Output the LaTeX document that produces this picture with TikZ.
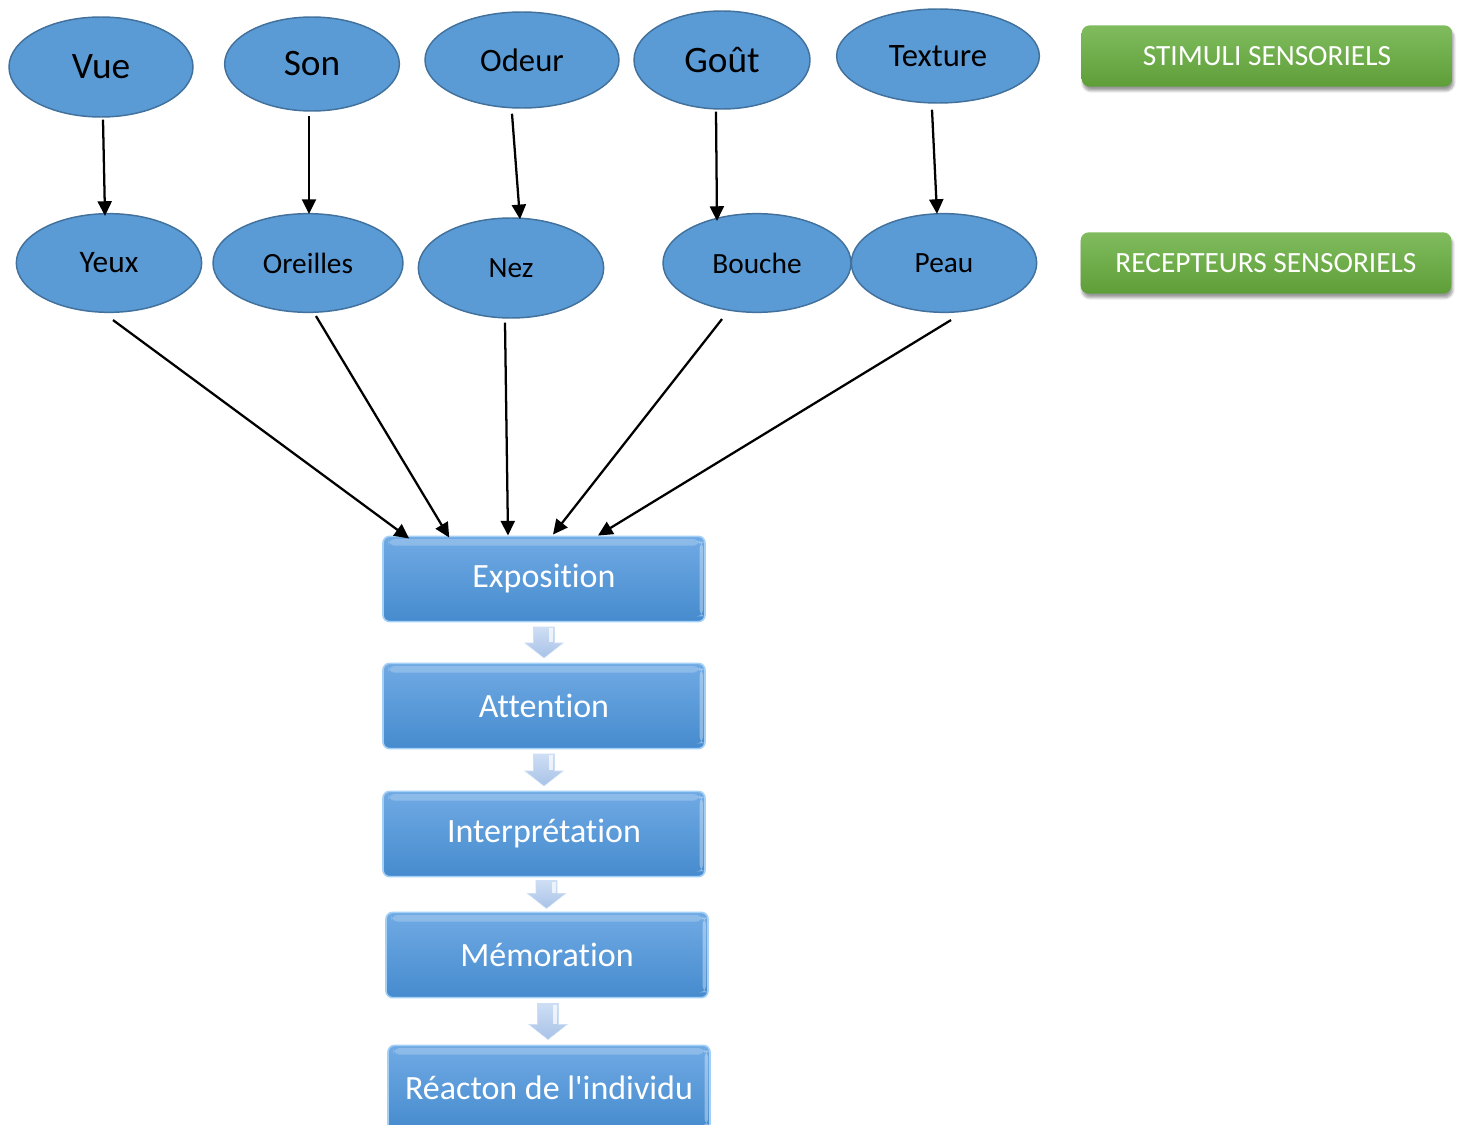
\documentclass[tikz,border=0pt]{standalone}
\usepackage{fontspec}
\setmainfont{Carlito}[Ligatures=NoCommon]
\usetikzlibrary{shapes.geometric,calc,arrows.meta,shadows.blur}
\definecolor{ellfill}{RGB}{91,155,213}
\definecolor{elldraw}{RGB}{65,113,156}
\definecolor{boxtop}{RGB}{112,170,228}
\definecolor{boxbot}{RGB}{70,139,206}
\definecolor{boxedge}{RGB}{165,208,246}
\definecolor{grtop}{RGB}{128,188,94}
\definecolor{grbot}{RGB}{94,158,56}
\definecolor{arrtop}{RGB}{206,222,244}
\definecolor{arrbot}{RGB}{168,194,231}
\tikzset{
  ell/.style={ellipse, fill=ellfill, draw=elldraw, line width=1.1pt, inner sep=0pt},
  big/.style={font=\fontsize{28}{30}\selectfont},
  mid/.style={font=\fontsize{24.5}{28}\selectfont},
  small/.style={font=\fontsize{22}{24}\selectfont},
  stage/.style={rectangle, rounded corners=5pt, top color=boxtop, bottom color=boxbot,
    draw=boxedge, line width=1.2pt, minimum width=241.5pt, minimum height=64pt,
    text=white, font=\fontsize{25.5}{28}\selectfont,
    path picture={
      \fill[white, opacity=0.22] ([xshift=4pt,yshift=-2pt]path picture bounding box.north west)
        rectangle ([xshift=-4pt,yshift=-7pt]path picture bounding box.north east);
      \fill[white, opacity=0.35] ([xshift=-4pt,yshift=-4pt]path picture bounding box.north east)
        rectangle ([xshift=-1.5pt,yshift=4pt]path picture bounding box.south east);
    }},
  label/.style={rectangle, rounded corners=6pt, top color=grtop, bottom color=grbot,
    minimum width=278pt, minimum height=46pt, text=white,
    font=\fontsize{22}{25}\selectfont,
    blur shadow={shadow xshift=1pt, shadow yshift=-3pt, shadow blur steps=6, shadow opacity=40}},
  conn/.style={line width=1.7pt, -{Triangle[length=11pt,width=10.5pt]}},
  blkarr/.pic={
    \path[top color=arrtop, bottom color=arrbot, draw=arrtop, line width=0.4pt]
      (-10.5,{-#1/2}) -- (10.5,{-#1/2}) -- (10.5,{#1/2-15}) -- (19,{#1/2-15})
      -- (0,{#1/2}) -- (-19,{#1/2-15}) -- (-10.5,{#1/2-15}) -- cycle;
    \fill[white, opacity=0.7] (5,{-#1/2+1}) rectangle (9,{#1/2-16});
  },
}
\begin{document}
\begin{tikzpicture}[x=0.75pt,y=-0.75pt]
\useasboundingbox (0,0) rectangle (1462,1124);
% stimuli
\node[ell, big, minimum width=138pt, minimum height=75pt] (vue) at (101,67) {Vue};
\node[ell, big, minimum width=131pt, minimum height=70.5pt] (son) at (312,64) {Son};
\node[ell, mid, minimum width=145.5pt, minimum height=72pt] (odeur) at (522,60) {Odeur};
\node[ell, big, minimum width=132pt, minimum height=73.5pt] (gout) at (722,60) {Goût};
\node[ell, mid, minimum width=152pt, minimum height=70.5pt] (texture) at (938,56) {Texture};
% receptors
\node[ell, font=\fontsize{23.5}{26}\selectfont, minimum width=139pt, minimum height=74pt] (yeux) at (109,263) {Yeux};
\node[ell, small, minimum width=142.5pt, minimum height=74pt] (oreilles) at (308,263) {Oreilles};
\node[ell, small, minimum width=139pt, minimum height=75pt] (nez) at (511,268) {Nez};
\node[ell, small, minimum width=141pt, minimum height=74pt] (bouche) at (757,263) {Bouche};
\node[ell, small, minimum width=139pt, minimum height=74pt] (peau) at (944,263) {Peau};
% labels
\node[label] (stim) at (1267,56) {STIMULI SENSORIELS};
\node[label] (recep) at (1266,263) {RECEPTEURS SENSORIELS};
% stages
\node[stage] (expo) at (544,579) {Exposition};
\node[stage] (att) at (544,706) {Attention};
\node[stage] (interp) at (544,834) {Interprétation};
\node[stage] (memo) at (547,955) {Mémoration};
\node[stage] (reac) at (549,1088) {Réacton de l\textquotesingle individu};
% block arrows
\pic at ($(expo.south)!0.5!(att.north)$) {blkarr=31};
\pic at ($(att.south)!0.5!(interp.north)$) {blkarr=32};
\pic at ($(interp.south)!0.5!(memo.north)+(1,0)$) {blkarr=28};
\pic at ($(memo.south)!0.5!(reac.north)$) {blkarr=36};
% stimulus -> receptor
\draw[conn] ($(vue.south)+(2,2)$) -- ($(yeux.north)+(-4,3)$);
\draw[conn] ($(son.south)+(-3,4)$) -- ($(oreilles.north)+(1,1)$);
\draw[conn] ($(odeur.south)+(-10,5)$) -- ($(nez.north)+(9,2)$);
\draw[conn] ($(gout.south)+(-6,2)$) -- ($(bouche.north)+(-40,8)$);
\draw[conn] ($(texture.south)+(-6,6)$) -- ($(peau.north)+(-7,1)$);
% receptor -> exposition
\draw[conn] ($(yeux.south)+(4,7)$) -- ($(expo.north west)+(27,3)$);
\draw[conn] ($(oreilles.south)+(8,3)$) -- ($(expo.north west)+(67,2)$);
\draw[conn] ($(nez.south)+(-6,4)$) -- ($(expo.north)+(-36,0)$);
\draw[conn] ($(bouche.south)+(-35,6)$) -- ($(expo.north)+(9,-1)$);
\draw[conn] ($(peau.south)+(7,7)$) -- ($(expo.north)+(54,0)$);
\end{tikzpicture}
\end{document}
